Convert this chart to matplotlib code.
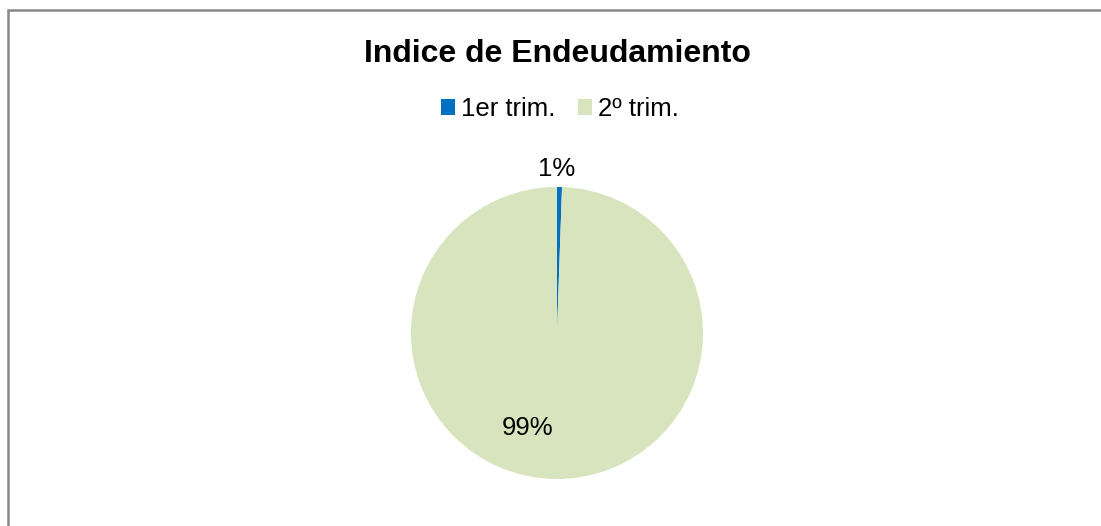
import matplotlib
matplotlib.use("Agg")
import matplotlib.pyplot as plt
from matplotlib.patches import Rectangle, Patch

plt.rcParams['font.family'] = ['Liberation Sans', 'DejaVu Sans']

title = "Indice de Endeudamiento"
categories = ["1er trim.", "2º trim."]
values = [0.55, 99.45]
colors = ["#0070C0", "#D7E4BD"]

W, H = 1101, 526
fig = plt.figure(figsize=(W / 100, H / 100), dpi=100)

# outer chart frame (top and left visible)
fig.add_artist(Rectangle((7.5 / W, -0.1), 1.2, (H - 10) / H + 0.1,
                         transform=fig.transFigure, fill=False,
                         edgecolor="#888888", linewidth=1.8))

cx, cy, r = 557, 333, 146
ax = fig.add_axes([(cx - r) / W, (H - cy - r) / H, 2 * r / W, 2 * r / H])
wedges, texts, autotexts = ax.pie(values, colors=colors, startangle=90,
                                  counterclock=False, radius=1,
                                  autopct='%.0f%%',
                                  textprops=dict(fontsize=18.5, color='#000000'))
ax.set_xlim(-1, 1)
ax.set_ylim(-1, 1)
ax.set_aspect('equal')
ax.axis('off')
autotexts[0].set_position((0.0, 1.12))
autotexts[1].set_position((-0.2, -0.65))

fig.text(cx / W, 1 - 54 / H, title, ha='center', va='center',
         fontsize=23, fontweight='bold')

handles = [Patch(facecolor=c, edgecolor='none') for c in colors]
fig.legend(handles, categories, loc='center', bbox_to_anchor=(560 / W, 1 - 109 / H),
           ncol=2, frameon=False, fontsize=18.5, handlelength=0.55, handleheight=0.55,
           handletextpad=0.25, columnspacing=0.85)

fig.savefig("out.png", dpi=100)
